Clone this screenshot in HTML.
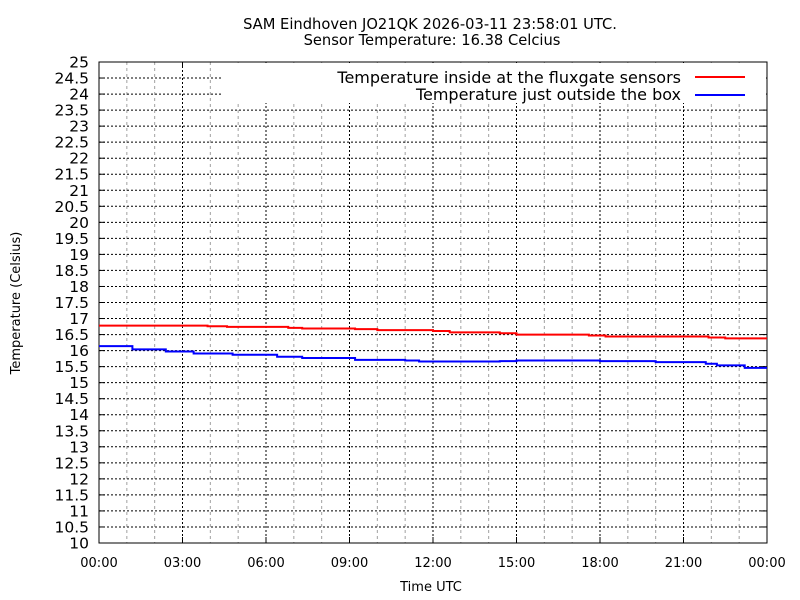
<!DOCTYPE html>
<html><head><meta charset="utf-8"><style>
body{margin:0;background:#fff}
svg{display:block;font-family:"DejaVu Sans","Liberation Sans",sans-serif}
</style></head><body>
<svg id="c" width="800" height="600"></svg>
<script>
const yTicks=[10,10.5,11,11.5,12,12.5,13,13.5,14,14.5,15,15.5,16,16.5,17,17.5,18,18.5,19,19.5,20,20.5,21,21.5,22,22.5,23,23.5,24,24.5,25];
const xTickLabels=["00:00","03:00","06:00","09:00","12:00","15:00","18:00","21:00","00:00"];
const redHours=[0,3.9,4.6,6.8,7.3,9.2,10,12,12.6,14.4,15,17.6,18.2,21.9,22.5,24];
const redTemps=[16.78,16.76,16.74,16.71,16.69,16.67,16.64,16.61,16.57,16.54,16.5,16.47,16.44,16.41,16.38,16.38];
const blueHours=[0,1.2,2.4,3.4,4.8,6.4,7.3,9.2,11,11.5,14.4,15,18,20,21.8,22.2,23.2,24];
const blueTemps=[16.14,16.04,15.97,15.91,15.87,15.81,15.77,15.71,15.69,15.66,15.67,15.69,15.67,15.64,15.59,15.54,15.46,15.46];
const NS="http://www.w3.org/2000/svg",svg=document.getElementById('c');
const L=99,R=767,T=62,B=543;
const xs=h=>L+(R-L)*h/24, ys=v=>B-(B-T)*(v-10)/15;
function el(t,a,p){const e=document.createElementNS(NS,t);for(const k in a)e.setAttribute(k,a[k]);(p||svg).appendChild(e);return e;}
function txt(s,a){const e=el('text',a);e.textContent=s;return e;}
for(let h=1;h<24;h++){if(h%3===0)continue;
const g=el('line',{x1:xs(h),x2:xs(h),y1:T,y2:B,stroke:'#a0a0a0','stroke-dasharray':'3,3'});
}
for(let i=1;i<8;i++){const h=i*3;
const g=el('line',{x1:xs(h),x2:xs(h),y1:T,y2:B,stroke:'#000','stroke-dasharray':'2,2'});
}
yTicks.forEach(v=>{const y=ys(v);
if(v>10&&v<25){const g=el('line',{x1:L,x2:R,y1:y,y2:y,stroke:'#000','stroke-dasharray':'2,2'});
}
el('line',{x1:L,x2:L+6,y1:y,y2:y,stroke:'#000'});el('line',{x1:R-6,x2:R,y1:y,y2:y,stroke:'#000'});
const t=txt(String(v),{x:89,y:y+5.5,'text-anchor':'end','font-size':15.5});
});
xTickLabels.forEach((s,i)=>{const x=xs(i*3);
el('line',{x1:x,x2:x,y1:B,y2:B-6,stroke:'#000'});el('line',{x1:x,x2:x,y1:T,y2:T+6,stroke:'#000'});
const t=txt(s,{x:x,y:567,'text-anchor':'middle','font-size':13});
});
const lb=el('rect',{x:222,y:63,width:544,height:40,fill:'#fff'});

const fr=el('rect',{x:L,y:T,width:R-L,height:B-T,fill:'none',stroke:'#000'});

function step(hs,vs,c,name){let d='';hs.forEach((h,i)=>{if(i===0)d+='M'+xs(h)+','+ys(vs[0]);else d+='L'+xs(h)+','+ys(vs[i-1])+'L'+xs(h)+','+ys(vs[i]);});
const p=el('path',{d:d,fill:'none',stroke:c,'stroke-width':2});
}
step(redHours,redTemps,'#ff0000','series-inside-temperature');
step(blueHours,blueTemps,'#0000ff','series-outside-temperature');
let t;
t=txt('Temperature inside at the fluxgate sensors',{x:681,y:83,'text-anchor':'end','font-size':16});

el('line',{x1:695,x2:745,y1:77,y2:77,stroke:'#ff0000','stroke-width':2});
t=txt('Temperature just outside the box',{x:681,y:100,'text-anchor':'end','font-size':16});

el('line',{x1:695,x2:745,y1:95,y2:95,stroke:'#0000ff','stroke-width':2});
t=txt('SAM Eindhoven JO21QK 2026-03-11 23:58:01 UTC.',{x:430,y:29,'text-anchor':'middle','font-size':14.7});

t=txt('Sensor Temperature: 16.38 Celcius',{x:432,y:45,'text-anchor':'middle','font-size':14.7});

t=txt('Time UTC',{x:431,y:591,'text-anchor':'middle','font-size':13});

t=txt('Temperature (Celsius)',{x:0,y:0,'text-anchor':'middle','font-size':13,transform:'translate(20,303) rotate(-90)'});

</script>
</body></html>
